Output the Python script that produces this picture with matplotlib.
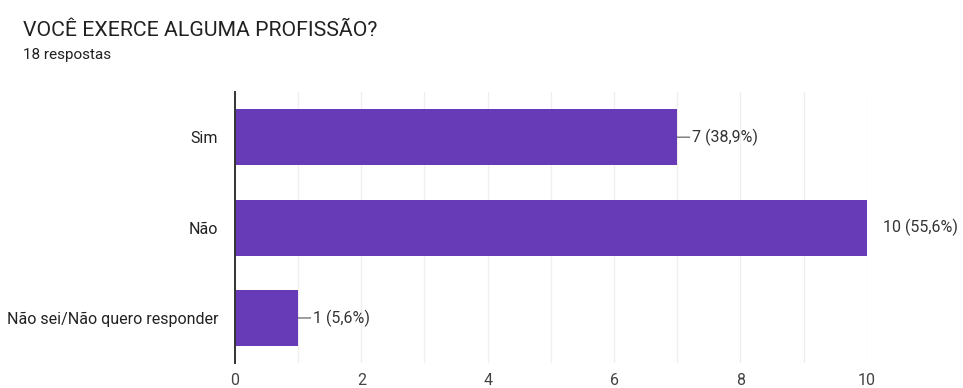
import matplotlib
matplotlib.use("Agg")
import matplotlib.pyplot as plt
from matplotlib.ticker import MultipleLocator

plt.rcParams['font.family'] = ['Roboto', 'DejaVu Sans']

categories = ["Sim", "Não", "Não sei/Não quero responder"]
values = [7, 10, 1]
labels = ["7 (38,9%)", "10 (55,6%)", "1 (5,6%)"]
xticks = [0, 2, 4, 6, 8, 10]

title = "VOCÊ EXERCE ALGUMA PROFISSÃO?"
subtitle = "18 respostas"
bar_color = "#673AB7"

fig = plt.figure(figsize=(9.63, 3.88), dpi=100)
ax = fig.add_axes([0.244, 0.064, 0.656, 0.699])

ypos = list(range(len(categories)))
ax.barh(ypos, values, height=0.62, color=bar_color, zorder=3)
ax.set_ylim(len(categories) - 0.5, -0.5)
ax.set_xlim(0, 10)
ax.set_yticks(ypos)
ax.set_yticklabels(categories, fontsize=11.5, color="#222222")
ax.set_xticks(xticks)
ax.set_xticklabels([str(t) for t in xticks], fontsize=11.5, color="#444444")
ax.xaxis.set_minor_locator(MultipleLocator(1))
ax.grid(True, axis="x", which="both", color="#eeeeee", linewidth=0.9, zorder=0)
ax.tick_params(axis="both", which="both", length=0, pad=12)
ax.tick_params(axis="x", pad=7)
for s in ["top", "right", "bottom"]:
    ax.spines[s].set_visible(False)
ax.spines["left"].set_color("#333333")
ax.spines["left"].set_linewidth(1.4)
ax.spines["left"].set_zorder(4)

vmax = max(values)
for y, v, lab in zip(ypos, values, labels):
    if v == vmax:
        ax.annotate(lab, xy=(v, y), xytext=(12, 0), textcoords="offset points",
                    va="center", ha="left", fontsize=11.5, color="#333333",
                    annotation_clip=False)
    else:
        ax.annotate(lab, xy=(v, y), xytext=(11, 0), textcoords="offset points",
                    va="center", ha="left", fontsize=11.5, color="#333333",
                    arrowprops=dict(arrowstyle="-", color="#555555", lw=0.8,
                                    shrinkA=0, shrinkB=0),
                    annotation_clip=False)

fig.text(23 / 963, 1 - 30 / 388, title, fontsize=15.3, color="#212121",
         va="center", ha="left")
fig.text(23 / 963, 1 - 55 / 388, subtitle, fontsize=11, color="#212121",
         va="center", ha="left")

fig.savefig("out.png", dpi=100)
